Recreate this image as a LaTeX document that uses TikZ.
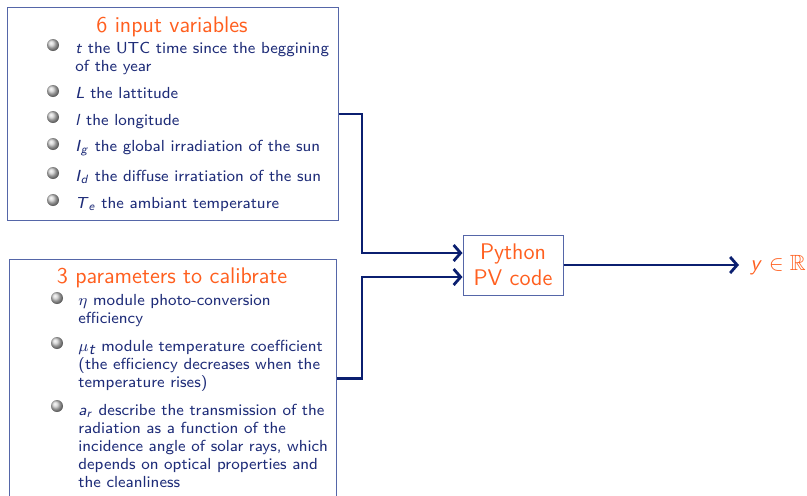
\documentclass[tikz,border=0pt]{standalone}
\usepackage{amssymb}
\usetikzlibrary{arrows.meta}

\definecolor{titleorange}{HTML}{FF5F1F}
\definecolor{textblue}{HTML}{1E2C78}
\definecolor{linkblue}{HTML}{0B1F70}
\definecolor{frameblue}{HTML}{5566A8}

\begin{document}
\begin{tikzpicture}
  [x=0.5pt,y=-0.5pt,
   panel/.style={draw=frameblue,line width=0.5pt,inner sep=0pt,anchor=north west},
   heading/.style={text=titleorange,font=\sffamily\fontsize{11.3}{13}\selectfont,anchor=base},
   entry/.style={text=textblue,font=\sffamily\fontsize{8}{9}\selectfont,align=left,anchor=base west,inner sep=0pt},
   bullet/.style={ball color=gray!38!white},
   link/.style={->,>={Straight Barb[length=3.5pt,width=8pt]},line width=1.4pt,draw=linkblue}]

  \useasboundingbox (0,0) rectangle (807,495);

  % input variables (multi-line entries sit on their last baseline)
  \node[panel,minimum width=165.5pt,minimum height=106.5pt] (inputs) at (7,7) {};
  \node[heading] (inputs title) at (172,32) {6 input variables};
  \shade[bullet] (53,45) circle (3pt);
  \shade[bullet] (53,91) circle (3pt);
  \shade[bullet] (53,117) circle (3pt);
  \shade[bullet] (53,144) circle (3pt);
  \shade[bullet] (53,173) circle (3pt);
  \shade[bullet] (53,200) circle (3pt);
  \node[entry] (time)      at (75,71)  {\textit{t} the UTC time since the beggining\\of the year};
  \node[entry] (latitude)  at (75,98)  {\textit{L} the lattitude};
  \node[entry] (longitude) at (75,125) {\textit{l} the longitude};
  \node[entry] (global)    at (75,151) {\textit{I}\textsubscript{\textit{g}} the global irradiation of the sun};
  \node[entry] (diffuse)   at (75,181) {\textit{I}\textsubscript{\textit{d}} the diffuse irratiation of the sun};
  \node[entry] (ambient)   at (75,208) {\textit{T}\textsubscript{\textit{e}} the ambiant temperature};

  % parameters
  \node[panel,minimum width=163.5pt,minimum height=119pt] (params) at (9,259) {};
  \node[heading] (params title) at (172,283) {3 parameters to calibrate};
  \shade[bullet] (57,298) circle (3pt);
  \shade[bullet] (57,343) circle (3pt);
  \shade[bullet] (57,406) circle (3pt);
  \node[entry] (efficiency)   at (78,323) {$\eta$ module photo-conversion\\efficiency};
  \node[entry] (coefficient)  at (78,387) {$\mu_{\textit{t}}$ module temperature coefficient\\(the efficiency decreases when the\\temperature rises)};
  \node[entry] (transmission) at (78,487) {\textit{a}\textsubscript{\textit{r}} describe the transmission of the\\radiation as a function of the\\incidence angle of solar rays, which\\depends on optical properties and\\the cleanliness};

  % model and output
  \node[draw=frameblue,line width=0.5pt,minimum width=50pt,minimum height=30pt,align=center,
        text=titleorange,font=\sffamily\fontsize{11.3}{13}\selectfont] (code) at (513,265) {Python\\PV code};
  \node[anchor=west,inner sep=5.5pt,text=titleorange,font=\sffamily\fontsize{11}{13}\selectfont]
    (result) at (739,265) {\textit{y} $\in\mathbb{R}$};

  \coordinate (bus) at (362,0);
  \draw[link] (inputs.east) -- (inputs.east -| bus) |- ([yshift=6pt]code.west);
  \draw[link] (params.east) -- (params.east -| bus) |- ([yshift=-6pt]code.west);
  \draw[link] (code.east) -- (result.west);
\end{tikzpicture}
\end{document}
